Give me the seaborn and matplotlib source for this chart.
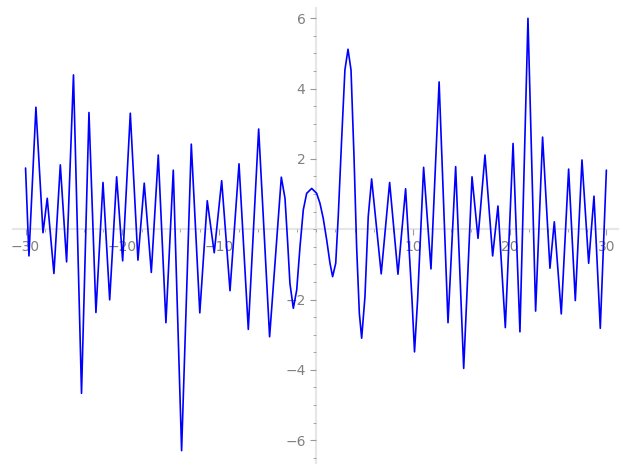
import seaborn as sns
import pandas as pd
import numpy as np
from matplotlib import pyplot as plt

# points (extrema plus a few extra on the wide swings)
xs = [-30.0, -29.65, -28.93, -28.2, -27.76, -27.07, -26.41, -25.76, -25.05, -24.22,
      -23.45, -22.73, -22.0, -21.31, -20.59, -19.97, -19.18, -18.39, -17.74, -17.01,
      -16.29, -15.5, -14.74, -13.88, -12.88, -12.0, -11.23, -10.51, -9.74, -8.88,
      -7.95, -6.99, -5.92, -4.79, -3.58, -3.2, -2.92, -2.69, -2.34, -1.99,
      -1.65, -1.31, -0.96, -0.44, 0.07, 0.41, 0.75, 1.11, 1.45, 1.72,
      2.04, 2.30, 2.65, 2.99, 3.31, 3.62, 3.93, 4.2, 4.48, 4.72,
      5.06, 5.40, 5.75, 6.74, 7.61, 8.47, 9.26, 9.92, 10.18, 10.5,
      11.12, 11.88, 12.72, 13.64, 14.43, 15.26, 16.12, 16.74, 17.46, 18.25,
      18.8, 19.56, 20.36, 21.07, 21.9, 22.69, 23.41, 24.17, 24.62, 25.34,
      26.1, 26.79, 27.48, 28.17, 28.72, 29.37, 30.0]
ys = [1.74, -0.76, 3.47, -0.10, 0.88, -1.26, 1.83, -0.93, 4.39, -4.67,
      3.32, -2.37, 1.33, -2.01, 1.49, -0.90, 3.30, -0.88, 1.31, -1.23,
      2.11, -2.66, 1.68, -6.30, 2.42, -2.38, 0.81, -0.67, 1.38, -1.75,
      1.86, -2.85, 2.85, -3.06, 1.48, 0.88, -0.40, -1.54, -2.25, -1.73,
      -0.50, 0.55, 1.02, 1.16, 1.02, 0.74, 0.31, -0.31, -0.97, -1.35,
      -0.97, 0.36, 2.54, 4.53, 5.12, 4.53, 2.06, -0.50, -2.39, -3.10,
      -1.92, 0.36, 1.43, -1.27, 1.33, -1.28, 1.15, -2.0, -3.49, -2.0,
      1.76, -1.13, 4.19, -2.66, 1.78, -3.96, 1.49, -0.26, 2.11, -0.76,
      0.66, -2.80, 2.44, -2.92, 6.00, -2.33, 2.62, -1.11, 0.21, -2.41,
      1.71, -2.03, 1.97, -0.97, 0.94, -2.82, 1.68]

xticks = [-30, -20, -10, 10, 20, 30]
yticks = [-6, -4, -2, 2, 4, 6]

df = pd.DataFrame({'x': xs, 'y': ys})

sns.set_style('white')
fig = plt.figure(figsize=(6.27, 4.7), dpi=100)
ax = fig.add_axes([0, 0, 1, 1])

sns.lineplot(data=df, x='x', y='y', sort=False, estimator=None,
             color='#0000ff', linewidth=1.2, ax=ax)

ax.set_xlim(-32.64, 32.13)
ax.set_ylim(-6.85, 6.52)

# sage style axes through the origin
for s in ['top', 'right']:
    ax.spines[s].set_visible(False)
ax.spines['left'].set_position(('data', 0))
ax.spines['bottom'].set_position(('data', 0))
ax.spines['left'].set_bounds(-6.65, 6.3)
ax.spines['bottom'].set_bounds(-31.3, 31.2)
for s in ['left', 'bottom']:
    ax.spines[s].set_color('#e6e6e6')
    ax.spines[s].set_linewidth(1.5)
    ax.spines[s].set_zorder(0)

ax.set_xticks(xticks)
ax.set_yticks(yticks)
ax.set_xticklabels([str(t).replace('-', '\u2212') for t in xticks])
ax.set_yticklabels([str(t).replace('-', '\u2212') for t in yticks])
ax.set_xticks(np.arange(-30, 31, 2), minor=True)
ax.set_yticks(np.arange(-6.5, 6.01, 0.5), minor=True)
ax.tick_params(which='both', direction='out', bottom=True, left=True,
               colors='#999999', labelcolor='#808080', labelsize=10)
ax.tick_params(which='major', length=4, width=0.8)
ax.tick_params(which='minor', length=2.5, width=0.6)
ax.set_xlabel('')
ax.set_ylabel('')

fig.savefig('out.png', dpi=100)
